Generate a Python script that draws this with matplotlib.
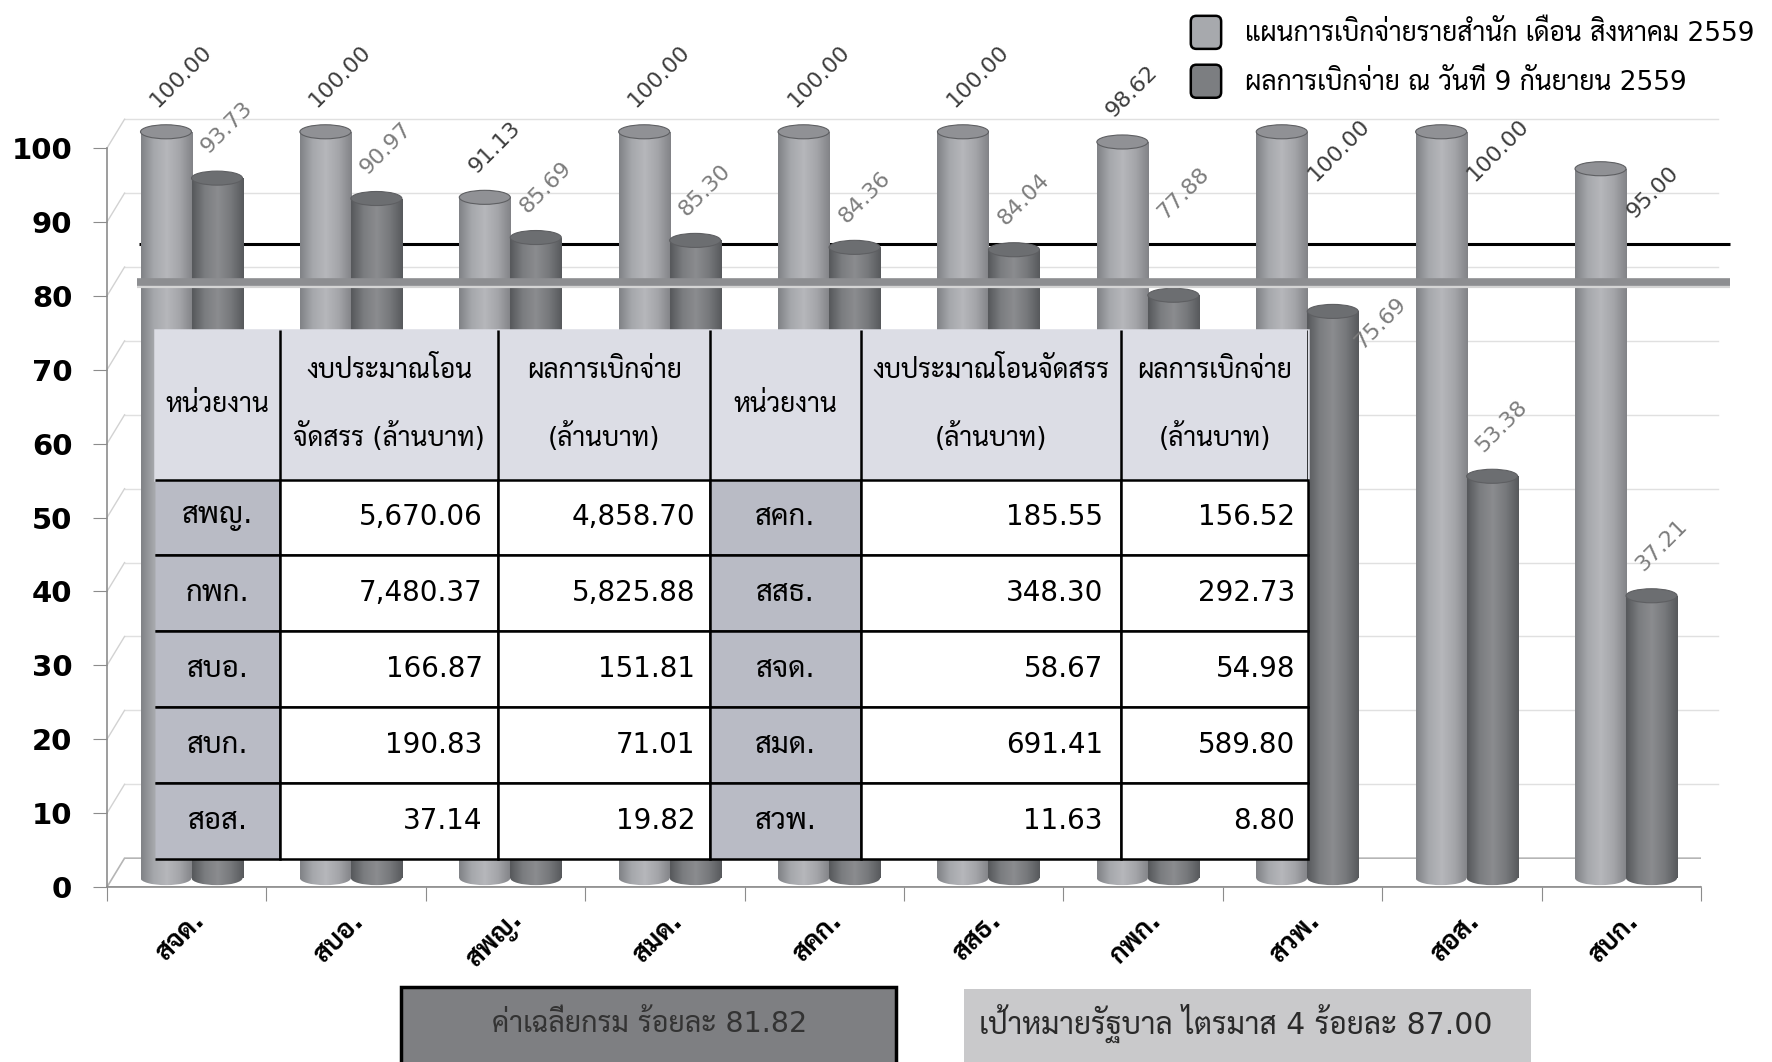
import numpy as np
import matplotlib
matplotlib.use("Agg")
import matplotlib.pyplot as plt
from matplotlib import font_manager
from matplotlib.colors import LinearSegmentedColormap
from matplotlib.patches import Ellipse, Rectangle, Polygon, Patch, FancyBboxPatch
from matplotlib.legend_handler import HandlerPatch
from matplotlib.table import Table

# ---- chart data ----
units = ["สจด.", "สบอ.", "สพญ.", "สมด.", "สคก.", "สสธ.", "กพก.", "สวพ.", "สอส.", "สบก."]
plan_pct = [100.00, 100.00, 91.13, 100.00, 100.00, 100.00, 98.62, 100.00, 100.00, 95.00]
actual_pct = [93.73, 90.97, 85.69, 85.30, 84.36, 84.04, 77.88, 75.69, 53.38, 37.21]
series_names = ["แผนการเบิกจ่ายรายสำนัก เดือน สิงหาคม 2559",
                "ผลการเบิกจ่าย ณ วันที่ 9 กันยายน 2559"]
dept_avg = 81.82
gov_target = 87.00

# ---- table data ----
table_header = ["หน่วยงาน", "งบประมาณโอน\nจัดสรร (ล้านบาท)", "ผลการเบิกจ่าย\n(ล้านบาท)",
                "หน่วยงาน", "งบประมาณโอนจัดสรร\n(ล้านบาท)", "ผลการเบิกจ่าย\n(ล้านบาท)"]
left_units = ["สพญ.", "กพก.", "สบอ.", "สบก.", "สอส."]
left_budget = [5670.06, 7480.37, 166.87, 190.83, 37.14]
left_spent = [4858.70, 5825.88, 151.81, 71.01, 19.82]
right_units = ["สคก.", "สสธ.", "สจด.", "สมด.", "สวพ."]
right_budget = [185.55, 348.30, 58.67, 691.41, 11.63]
right_spent = [156.52, 292.73, 54.98, 589.80, 8.80]


def pick_thai_font():
    entries = font_manager.fontManager.ttflist
    for name in ["Sarabun", "Noto Sans Thai Looped", "Noto Sans Thai", "K2D", "Krub", "Niramit"]:
        weights = []
        for f in entries:
            if f.name == name:
                w = f.weight
                if isinstance(w, str):
                    w = font_manager.weight_dict.get(w, 400)
                weights.append(w)
        if weights and max(weights) >= 600:
            return name
    return "DejaVu Sans"


THAI = pick_thai_font()
# latin glyphs in DejaVu (close to Tahoma), Thai glyphs from the Thai font
plt.rcParams['font.family'] = ['DejaVu Sans', THAI]

# styling
PLAN_CMAP = LinearSegmentedColormap.from_list("plan", ["#808286", "#a6a8ac", "#b6b7bb", "#a4a5a9", "#828387"])
ACT_CMAP = LinearSegmentedColormap.from_list("act", ["#56585b", "#7b7d80", "#8b8c8f", "#77797c", "#57595c"])
PLAN_CAP = "#909195"
ACT_CAP = "#6c6e71"
BAR_W = 0.32
BASE = 1.2        # bars stand a little behind the front edge of the floor
LIFT = 2.2        # perspective lift of the cylinder tops
CAP_H = 1.9
WALL_DX, WALL_DY = 0.11, 3.9
GRAD = np.linspace(0, 1, 128)[None, :]

fig = plt.figure(figsize=(17.72, 10.62), dpi=100)
ax = fig.add_axes([0.0604, 0.1648, 0.8995, 0.6958])

n = len(units)
centers = np.arange(n) + 0.53
x_plan = centers - BAR_W / 2
x_act = centers + BAR_W / 2

# back wall / side wall gridlines
for v in range(10, 101, 10):
    ax.plot([WALL_DX, n + WALL_DX], [v + WALL_DY] * 2, color="#e0e0e0", lw=1, zorder=1, clip_on=False)
    ax.plot([0, WALL_DX], [v, v + WALL_DY], color="#d2d2d2", lw=1, zorder=1, clip_on=False)
floor = Polygon([(0, 0), (n, 0), (n + WALL_DX, WALL_DY), (WALL_DX, WALL_DY)],
                closed=True, facecolor="white", edgecolor="#b5b5b5", lw=1.2, zorder=1)
ax.add_patch(floor)

# government target line (behind bars)
ax.plot([0.2, n + 0.18], [gov_target, gov_target], color="black", lw=2.2, zorder=2,
        solid_capstyle="butt", clip_on=False)


def draw_cylinders(xs, values, cmap, cap_color, z):
    heights = [v + LIFT - BASE for v in values]
    bars = ax.bar(xs, heights, width=BAR_W, bottom=BASE, color="none", zorder=z, clip_on=False)
    for bar in bars:
        x0, w = bar.get_x(), bar.get_width()
        y0, h = bar.get_y(), bar.get_height()
        im = ax.imshow(GRAD, extent=(x0, x0 + w, y0, y0 + h), aspect="auto", cmap=cmap,
                       interpolation="bilinear", zorder=z)
        im.set_clip_path(bar)
        bottom = Ellipse((x0 + w / 2, y0), w, CAP_H, facecolor="none", edgecolor="none", zorder=z)
        ax.add_patch(bottom)
        imb = ax.imshow(GRAD, extent=(x0, x0 + w, y0 - CAP_H, y0), aspect="auto", cmap=cmap,
                        interpolation="bilinear", zorder=z - 0.1)
        imb.set_clip_path(bottom)
        cap = Ellipse((x0 + w / 2, y0 + h), w, CAP_H, facecolor=cap_color,
                      edgecolor="#5e5f62", lw=0.8, zorder=z + 0.2, clip_on=False)
        ax.add_patch(cap)
    return bars


draw_cylinders(x_plan, plan_pct, PLAN_CMAP, PLAN_CAP, 3)
draw_cylinders(x_act, actual_pct, ACT_CMAP, ACT_CAP, 3.5)

# department average line (in front of bars)
ax.plot([0.19, n + 0.18], [dept_avg - 0.45, dept_avg - 0.45], color="#d4d4d4", lw=3, zorder=4.9,
        solid_capstyle="butt", clip_on=False)
ax.plot([0.19, n + 0.18], [dept_avg, dept_avg], color="#8d8e91", lw=5.5, zorder=5,
        solid_capstyle="butt", clip_on=False)

# axes
ax.set_xlim(0, n)
ax.set_ylim(0, 100)
for s in ["top", "right"]:
    ax.spines[s].set_visible(False)
for s in ["left", "bottom"]:
    ax.spines[s].set_color("#8c8c8c")
    ax.spines[s].set_linewidth(1.2)
ax.set_xticks(np.arange(0, n + 1))
ax.set_xticklabels([])
ax.set_xticks(centers, minor=True)
ax.set_xticklabels(units, minor=True, rotation=45, ha="right", va="top", rotation_mode="anchor",
                   fontsize=19, fontweight="bold")
ax.tick_params(axis="x", which="major", length=10, color="#8c8c8c")
ax.tick_params(axis="x", which="minor", length=0, pad=15)
ax.set_yticks(range(0, 101, 10))
ax.tick_params(axis="y", length=10, pad=15, labelsize=21, color="#8c8c8c")
for t in ax.get_yticklabels():
    t.set_fontweight("bold")


# legend with rounded swatches
def rounded_swatch(legend, orig_handle, xdescent, ydescent, width, height, fontsize):
    return FancyBboxPatch((-xdescent, -ydescent), width, height,
                          boxstyle="round,pad=0,rounding_size=4")


handles = [Patch(facecolor="#a7a9ad", edgecolor="black", lw=1.8),
           Patch(facecolor="#7c7e81", edgecolor="black", lw=1.8)]
leg = fig.legend(handles, series_names, loc="upper right", bbox_to_anchor=(0.999, 1.0), frameon=False,
                 fontsize=19, handlelength=1.15, handleheight=1.55, handletextpad=0.9, labelspacing=0.6,
                 borderaxespad=0.2, handler_map={Patch: HandlerPatch(patch_func=rounded_swatch)})

# value labels, nudged away from the legend and from the two reference lines
fig.canvas.draw()
leg_left = ax.transData.inverted().transform(leg.get_window_extent().p0)[0]
band_lo, band_hi = dept_avg - 1, gov_target + 1
for xs, vals, col, is_plan in [(x_plan, plan_pct, "#3c3c3c", True), (x_act, actual_pct, "#7c7c7c", False)]:
    for x, v in zip(xs, vals):
        xy, off = (x, v + LIFT), (-4, 15)
        hits_lines = (v + 5 < band_hi) and (v + 12.5 > band_lo)
        if is_plan and x > leg_left:
            xy, off = (x + BAR_W / 2, v + LIFT), (8, -38)
        elif not is_plan and hits_lines:
            if x > leg_left:
                xy, off = (x + BAR_W / 2, v + LIFT), (5, -30)
            else:
                xy, off = (x, gov_target), (-4, 15)
        ax.annotate(f"{v:.2f}", xy=xy, xytext=off, textcoords="offset points",
                    rotation=45, rotation_mode="anchor", ha="left", va="bottom",
                    fontsize=16, color=col, annotation_clip=False, zorder=6)

# summary table
tab_ax = fig.add_axes([0.0875, 0.1911, 0.6507, 0.4982])
tab_ax.set_zorder(5)
tab_ax.axis("off")
tab_ax.set_xlim(0, 1)
tab_ax.set_ylim(0, 1)
col_w = [125, 218, 212, 151, 260, 187]
row_h = 76
head_h = row_h * 1.97
HEAD_BG = "#dcdde5"
tbl = Table(tab_ax, bbox=[0, 0, 1, 1])
for c, head in enumerate(table_header):
    tbl.add_cell(0, c, width=col_w[c], height=head_h, text=head, loc="center",
                 facecolor=HEAD_BG, edgecolor=HEAD_BG)
rows = list(zip(left_units, left_budget, left_spent, right_units, right_budget, right_spent))
for r, (lu, lb, ls, ru, rb, rs) in enumerate(rows, start=1):
    vals = [lu, f"{lb:,.2f}", f"{ls:,.2f}", ru, f"{rb:,.2f}", f"{rs:,.2f}"]
    for c, txt in enumerate(vals):
        is_unit = c in (0, 3)
        tbl.add_cell(r, c, width=col_w[c], height=row_h, text=txt,
                     loc="center" if is_unit else "right",
                     facecolor="#b9bbc5" if is_unit else "white", edgecolor="black")
        tbl[r, c].visible_edges = "TBR" if c == 0 else "closed"
tbl.auto_set_font_size(False)
for (r, c), cell in tbl.get_celld().items():
    cell.set_linewidth(1.8)
    cell.PAD = 0.07
    txt = cell.get_text()
    if r == 0:
        txt.set_fontsize(19)
        txt.set_linespacing(2.6)
    elif c in (0, 3):
        txt.set_fontsize(21)
    else:
        txt.set_fontsize(20)
tab_ax.add_table(tbl)
# vertical separators inside the header row
head_frac = head_h / (head_h + len(rows) * row_h)
bounds = np.cumsum(col_w) / sum(col_w)
tab_ax.vlines(bounds, 1 - head_frac, 1, colors="black", lw=1.8, zorder=3)

# bottom note boxes
fig.add_artist(Rectangle((0.2263, -0.01), 0.2793, 0.0806, transform=fig.transFigure,
                         facecolor="#7e7f82", edgecolor="black", lw=2.5))
fig.text(0.3668, 0.036, f"ค่าเฉลี่ยกรม ร้อยละ {dept_avg:.2f}", ha="center", va="center",
         fontsize=20.5, color="#333333")
fig.add_artist(Rectangle((0.544, -0.01), 0.32, 0.0787, transform=fig.transFigure,
                         facecolor="#c9c9cb", edgecolor="none"))
fig.text(0.6975, 0.036, f"เป้าหมายรัฐบาล ไตรมาส 4 ร้อยละ {gov_target:.2f}", ha="center", va="center",
         fontsize=21.5, color="#2a2a2a")

fig.savefig("out.png", dpi=100)
